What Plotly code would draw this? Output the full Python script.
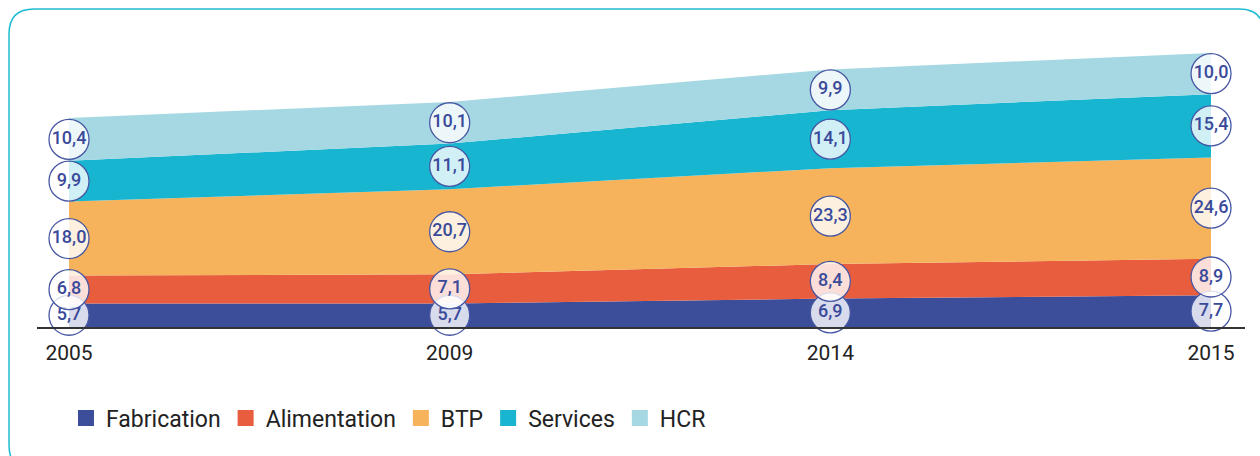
import plotly.graph_objects as go

# ---- data ----
years = ["2005", "2009", "2014", "2015"]
fabrication = [5.7, 5.7, 6.9, 7.7]
alimentation = [6.8, 7.1, 8.4, 8.9]
btp = [18.0, 20.7, 23.3, 24.6]
services = [9.9, 11.1, 14.1, 15.4]
hcr = [10.4, 10.1, 9.9, 10.0]

series_names = ["Fabrication", "Alimentation", "BTP", "Services", "HCR"]
series_values = [fabrication, alimentation, btp, services, hcr]
colors = ["#3c4e9a", "#e85d3d", "#f6b35c", "#18b5d0", "#a5d8e2"]

FONT = "Roboto, DejaVu Sans, sans-serif"
xs = list(range(len(years)))

fig = go.Figure()

# stacked areas
for name, vals, col in zip(series_names, series_values, colors):
    fig.add_trace(go.Scatter(
        x=xs, y=vals, name=name, stackgroup="one", mode="none",
        fillcolor=col, showlegend=False, hoverinfo="skip",
    ))

# value bubbles at band midpoints
base = [0.0] * len(years)
for vals in series_values:
    mids = [b + v / 2 for b, v in zip(base, vals)]
    fig.add_trace(go.Scatter(
        x=xs, y=mids, mode="markers+text",
        text=[f"{v:.1f}".replace(".", ",") for v in vals],
        textposition="middle center",
        textfont=dict(family=FONT, size=18, color="#3a4a9b", weight=500),
        marker=dict(size=40, color="rgba(255,255,255,0.8)",
                    line=dict(color="#4656a3", width=1.3)),
        showlegend=False, hoverinfo="skip", cliponaxis=False,
    ))
    base = [b + v for b, v in zip(base, vals)]

# legend entries (square swatches)
for name, col in zip(series_names, colors):
    fig.add_trace(go.Scatter(
        x=[None], y=[None], mode="markers", name=name,
        marker=dict(symbol="square", size=16, color=col),
    ))

# plot-area geometry (pixels)
L, R, T, B = 37, 15, 39, 129
W, H = 1260 - L - R, 456 - T - B


def px(x):
    return (x - L) / W


def py(y):
    return (456 - B - y) / H


# rounded card border
x0, x1, y0, y1, r = 9, 1264, 9, 470, 25
path = (
    f"M{px(x0)},{py(y0 + r)} Q{px(x0)},{py(y0)} {px(x0 + r)},{py(y0)} "
    f"L{px(x1 - r)},{py(y0)} Q{px(x1)},{py(y0)} {px(x1)},{py(y0 + r)} "
    f"L{px(x1)},{py(y1 - r)} Q{px(x1)},{py(y1)} {px(x1 - r)},{py(y1)} "
    f"L{px(x0 + r)},{py(y1)} Q{px(x0)},{py(y1)} {px(x0)},{py(y1 - r)} Z"
)
fig.add_shape(type="path", path=path, xref="paper", yref="paper",
              line=dict(color="#1fbcd2", width=1.5), layer="below")

fig.update_layout(
    width=1260, height=456,
    margin=dict(l=L, r=R, t=T, b=B),
    paper_bgcolor="white", plot_bgcolor="white",
    xaxis=dict(
        range=[-0.0841, 3.0893], tickvals=xs, ticktext=years,
        showgrid=False, zeroline=False, showline=True,
        linecolor="#333333", linewidth=1.5, ticks="",
        tickfont=dict(family=FONT, size=21, color="#222222"),
        ticklabelstandoff=6,
    ),
    yaxis=dict(range=[0, 70], visible=False, showgrid=False),
    legend=dict(
        orientation="h", traceorder="normal",
        x=0.024, xanchor="left", y=-0.316, yanchor="middle",
        font=dict(family=FONT, size=23, color="#222222"),
        itemwidth=30, tracegroupgap=0, bgcolor="rgba(0,0,0,0)",
    ),
)

fig.write_html(
    "out.html",
    config={"displayModeBar": False},
    post_script="document.body.style.margin='0';document.body.style.overflow='hidden';",
)
